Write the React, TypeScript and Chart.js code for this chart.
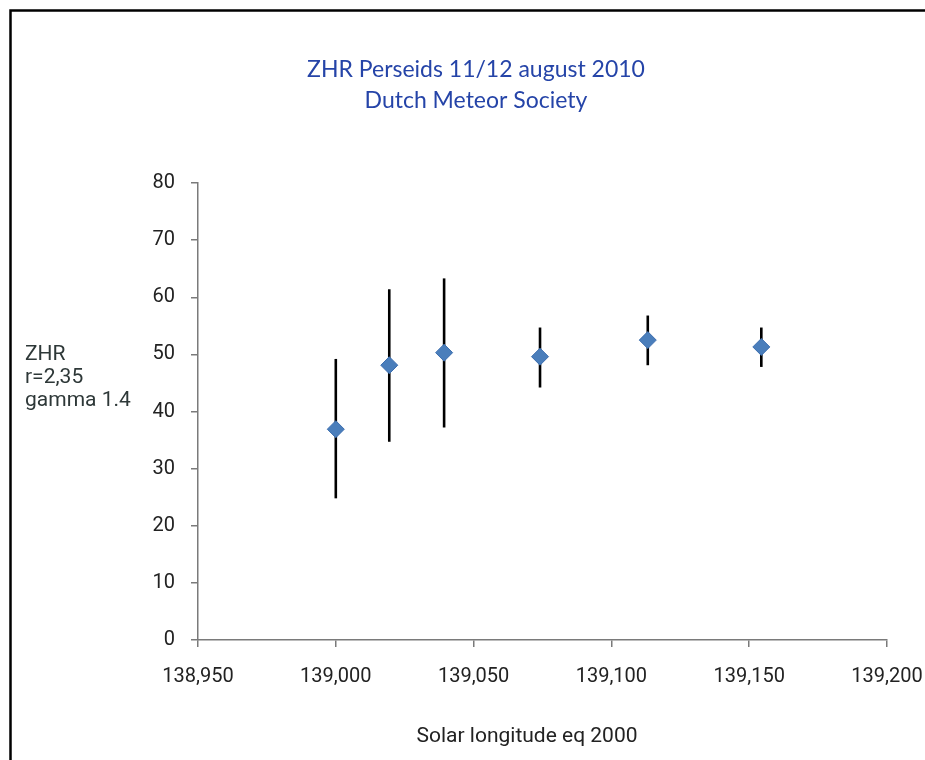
import React, { useEffect, useRef } from "react";
import { Chart, registerables } from "chart.js";

Chart.register(...registerables);

const solarLongitude = [139.0, 139.0194, 139.0393, 139.0741, 139.1132, 139.1544];
const zhr = [36.9, 48.1, 50.3, 49.6, 52.5, 51.3];
const zhrLow = [24.8, 34.7, 37.2, 44.2, 48.1, 47.8];
const zhrHigh = [49.2, 61.4, 63.3, 54.7, 56.8, 54.7];
const xTickValues = [138.95, 139.0, 139.05, 139.1, 139.15, 139.2];

const titleLines = ["ZHR Perseids 11/12 august 2010", "Dutch Meteor Society"];
const yLabelLines = ["ZHR", "r=2,35", "gamma 1.4"];
const xTitle = "Solar longitude eq 2000";

const W = 925;
const H = 760;

const errorBarPlugin = {
  id: "errorBars",
  beforeDatasetsDraw(chart: any) {
    const { ctx, scales } = chart;
    const xs = scales.x;
    const ys = scales.y;
    ctx.save();
    ctx.strokeStyle = "#000000";
    ctx.lineWidth = 2.6;
    ctx.lineCap = "butt";
    for (let i = 0; i < solarLongitude.length; i++) {
      const px = xs.getPixelForValue(solarLongitude[i]);
      const top = ys.getPixelForValue(zhrHigh[i]);
      const bot = ys.getPixelForValue(zhrLow[i]);
      ctx.beginPath();
      ctx.moveTo(px, top);
      ctx.lineTo(px, bot);
      ctx.stroke();
    }
    ctx.restore();
  },
};

const decorPlugin = {
  id: "decor",
  beforeDraw(chart: any) {
    const { ctx } = chart;
    ctx.save();
    ctx.fillStyle = "#ffffff";
    ctx.fillRect(0, 0, W, H);
    ctx.restore();
  },
  afterDraw(chart: any) {
    const { ctx } = chart;
    ctx.save();
    // frame
    ctx.strokeStyle = "#000000";
    ctx.lineWidth = 2.5;
    ctx.beginPath();
    ctx.moveTo(10.5, H);
    ctx.lineTo(10.5, 10.5);
    ctx.lineTo(W, 10.5);
    ctx.stroke();

    // title
    ctx.fillStyle = "#2544a8";
    ctx.font = "23px Lato";
    ctx.textAlign = "center";
    ctx.textBaseline = "alphabetic";
    ctx.fillText(titleLines[0], 476, 77);
    ctx.fillText(titleLines[1], 476, 108);

    // y label
    ctx.fillStyle = "#2e3838";
    ctx.font = "21px Roboto";
    ctx.textAlign = "left";
    yLabelLines.forEach((t, i) => ctx.fillText(t, 25, 360 + i * 23));

    // x title
    ctx.fillStyle = "#222222";
    ctx.textAlign = "center";
    ctx.textBaseline = "middle";
    ctx.font = "21px Roboto";
    ctx.fillText(xTitle, 527, 737);
    ctx.restore();
  },
};

export default function App() {
  const ref = useRef<HTMLCanvasElement | null>(null);
  useEffect(() => {
    if (!ref.current) return;
    const chart = new Chart(ref.current, {
      type: "scatter",
      data: {
        datasets: [
          {
            data: solarLongitude.map((x, i) => ({ x, y: zhr[i] })),
            pointStyle: "rectRot",
            pointRadius: 8.5,
            pointHoverRadius: 8.5,
            backgroundColor: "#4a7ebb",
            borderColor: "#3d6fb0",
            borderWidth: 1,
            showLine: false,
          },
        ],
      },
      options: {
        animation: false,
        responsive: false,
        devicePixelRatio: 1,
        layout: { padding: { top: 183, right: 38, left: 0, bottom: 0 } },
        plugins: {
          legend: { display: false },
          title: { display: false },
          tooltip: { enabled: false },
        },
        scales: {
          x: {
            type: "linear",
            min: 138.95,
            max: 139.2,
            afterFit(scale: any) {
              scale.height = 120;
              scale.paddingLeft = 0;
              scale.paddingRight = 0;
            },
            afterBuildTicks(scale: any) {
              scale.ticks = xTickValues.map((v) => ({ value: v }));
            },
            ticks: {
              autoSkip: false,
              maxRotation: 0,
              padding: 18,
              color: "#222222",
              font: { family: "Roboto", size: 20 },
              callback: (v: any) => Number(v).toFixed(3).replace(".", ","),
            },
            grid: { drawOnChartArea: false, drawTicks: true, tickLength: 7, color: "#7a7a7a", lineWidth: 1.5 },
            border: { display: true, color: "#7a7a7a", width: 1.5 },
          },
          y: {
            min: 0,
            max: 80,
            afterFit(scale: any) {
              scale.width = 198;
            },
            ticks: {
              stepSize: 10,
              padding: 16,
              color: "#222222",
              font: { family: "Roboto", size: 20 },
            },
            grid: { drawOnChartArea: false, drawTicks: true, tickLength: 7, color: "#7a7a7a", lineWidth: 1.5 },
            border: { display: true, color: "#7a7a7a", width: 1.5 },
          },
        },
      },
      plugins: [errorBarPlugin, decorPlugin],
    } as any);
    return () => chart.destroy();
  }, []);
  return (
    <div style={{ position: "absolute", left: 0, top: 0, width: W, height: H }}>
      <canvas ref={ref} width={W} height={H} style={{ display: "block", width: W, height: H }} />
    </div>
  );
}
